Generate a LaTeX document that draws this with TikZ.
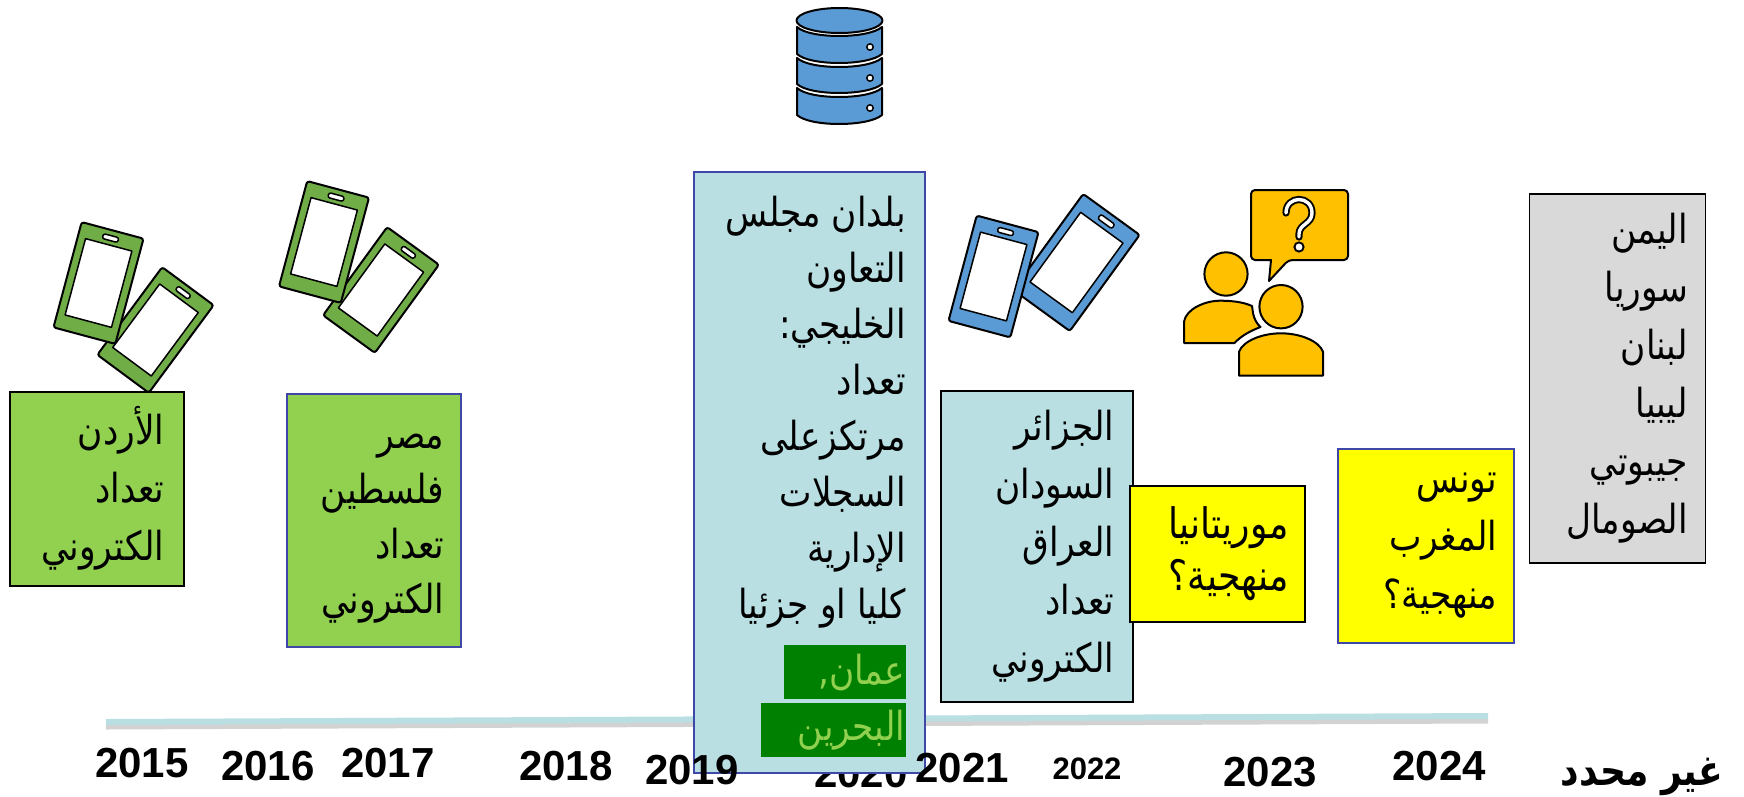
\documentclass[tikz,border=0pt]{standalone}
\usepackage{fontspec}
\setmainfont{Liberation Sans}
\TeXXeTstate=1
\newfontfamily\arabicfont[Script=Arabic,FakeStretch=0.86]{DejaVu Sans}
\definecolor{lgreen}{HTML}{92D050}
\definecolor{lblue}{HTML}{B9DFE3}
\definecolor{lgray}{HTML}{D9D9D9}
\definecolor{edgeblue}{HTML}{3F48A8}
\definecolor{dgreen}{HTML}{008000}
\definecolor{iconblue}{HTML}{5B9BD5}
\definecolor{icongreen}{HTML}{70AD47}
\definecolor{iconamber}{HTML}{FFC000}
\definecolor{pureyellow}{HTML}{FFFF00}
\tikzset{
  panel/.style={rectangle,draw=#1,line width=1.5pt,inner sep=0pt,anchor=north west},
  artext/.style={font=\fontsize{40}{58}\selectfont\arabicfont,align=right,inner sep=0pt,anchor=east,text=black},
  yearlabel/.style={font=\fontsize{42}{44}\selectfont\bfseries,inner sep=0pt},
  iconline/.style={draw=black,line width=2pt,line join=round},
  phoneshell/.style={iconline,rounded corners=2.5pt},
}
\newcommand{\phoneicon}[5]{%
  \begin{scope}[shift={(#1,#2)},rotate=-#3,scale=#4]
    \draw[phoneshell,fill=#5] (-32,-54.5) rectangle (32,54.5);
    \fill[white] (-24,-39.5) rectangle (24,39.5);
    \draw[iconline,line width=1.5pt] (-24,-39.5) rectangle (24,39.5);
    \draw[iconline,line width=1.5pt,fill=white,rounded corners=2.2pt] (-8,-49) rectangle (8,-44);
  \end{scope}}
\newcommand{\dblayer}[3]{%
  \draw[iconline,fill=iconblue] (797,#1) .. controls (810,#1+12) and (868,#1+12) .. (882,#1) -- (882,#2) .. controls (868,#2+12) and (810,#2+12) .. (797,#2) -- cycle;
  \draw[iconline,line width=1.5pt,fill=white] (870,#3) circle[radius=3.2];}
\begin{document}
\begin{tikzpicture}[x=1pt,y=-1pt]
\useasboundingbox (0,0) rectangle (1744,797);
% timeline
\coordinate (tlstart) at (106,722);
\coordinate (tlend) at (1488,716);
\draw[line width=5pt,black!25,opacity=.7] ([yshift=-5pt]tlstart) -- ([yshift=-5pt]tlend);
\draw[line width=6pt,lblue] (tlstart) -- (tlend);
% years behind the Gulf panel
\node[yearlabel] (y15) at (142,763) {2015};
\node[yearlabel] (y16) at (268,766) {2016};
\node[yearlabel] (y17) at (388,763) {2017};
\node[yearlabel] (y18) at (566,766) {2018};
\node[yearlabel] (y20) at (861,773) {2020};
\node[yearlabel,font=\fontsize{31}{34}\selectfont\bfseries] (y22) at (1087,769) {2022};
\node[yearlabel] (y23) at (1270,772) {2023};
\node[yearlabel] (y24) at (1439,766) {2024};
\node[yearlabel,font=\fontsize{42}{44}\selectfont\arabicfont\bfseries] (yna) at (1642,777) {\beginR غير محدد\endR};
% phones
\phoneicon{155.5}{330}{36.5}{1}{icongreen}
\phoneicon{98.5}{283}{15}{1}{icongreen}
\phoneicon{381}{290}{36}{1}{icongreen}
\phoneicon{324}{242}{15}{1}{icongreen}
\phoneicon{1076.5}{262.5}{36}{1.09}{iconblue}
\phoneicon{993.5}{276.5}{15}{1}{iconblue}
% database
\dblayer{27}{54}{47}
\dblayer{58}{84}{78}
\dblayer{88}{115}{108}
\draw[iconline,fill=iconblue] (839.5,20.5) ellipse[x radius=43,y radius=12.5];
% people and bubble
\draw[iconline,fill=iconamber,rounded corners=4pt] (1251,190) -- (1348,190) -- (1348,260) -- (1288.5,260) [sharp corners] -- (1269,281) -- (1271,260) [rounded corners=4pt] -- (1251,260) -- cycle;
\draw[line width=7.2pt,black,line cap=round] (1286,213) .. controls (1286,195) and (1312,195) .. (1312,213) .. controls (1312,224) and (1299,224) .. (1299,234) -- (1299,237);
\draw[line width=3.4pt,white,line cap=round] (1286,213) .. controls (1286,195) and (1312,195) .. (1312,213) .. controls (1312,224) and (1299,224) .. (1299,234) -- (1299,237);
\draw[line width=1.9pt,fill=white] (1299,247) circle[radius=4.6];
\draw[iconline,fill=iconamber] (1226,274) ellipse[x radius=21.6,y radius=21.7];
\draw[iconline,fill=iconamber] (1184,343) -- (1184,321.7) .. controls (1186,309) and (1205,300.7) .. (1220,300.7) .. controls (1232,300.7) and (1243,302) .. (1252,306) -- (1253,313) .. controls (1254,319) and (1257,324) .. (1260.5,327) .. controls (1250,331) and (1241,336) .. (1234.5,343) -- cycle;
\draw[iconline,fill=iconamber] (1281,306.7) ellipse[x radius=21.6,y radius=21.7];
\draw[iconline,fill=iconamber] (1239,375.7) -- (1239,351.7) .. controls (1243,341) and (1262,333.3) .. (1281,333.3) .. controls (1300,333.3) and (1319,341) .. (1323,351.7) -- (1323,375.7) -- cycle;
% boxes
\node[panel=black,fill=lgreen,minimum width=174pt,minimum height=194pt] (jordan) at (9,391) {};
\node[artext,xshift=-20pt] (jordantext) at (jordan.east) {\beginR الأردن\endR\\\beginR تعداد\endR\\\beginR الكتروني\endR};
\node[panel=edgeblue,fill=lgreen,minimum width=174pt,minimum height=253pt] (egypt) at (286,393) {};
\node[artext,xshift=-17pt,yshift=-8pt,font=\fontsize{40}{55}\selectfont\arabicfont] (egypttext) at (egypt.east) {\beginR مصر\endR\\\beginR فلسطين\endR\\\beginR تعداد\endR\\\beginR الكتروني\endR};
\node[panel=edgeblue,fill=lblue,minimum width=231pt,minimum height=601pt] (gulf) at (693,171) {};
\node[artext,anchor=north east,font=\fontsize{40}{56}\selectfont\arabicfont] (gulftext) at (906,196) {\beginR بلدان مجلس\endR\\\beginR التعاون\endR\\\beginR الخليجي:\endR\\\beginR تعداد\endR\\\beginR مرتكزعلى\endR\\\beginR السجلات\endR\\\beginR الإدارية\endR\\\beginR كليا او جزئيا\endR};
\node[rectangle,fill=dgreen,inner sep=0pt,anchor=north west,minimum width=122pt,minimum height=54pt] (oman) at (784,645) {};
\node[artext,text=lgreen,xshift=-1pt] (omantext) at (oman.east) {\beginR عمان,\endR};
\node[rectangle,fill=dgreen,inner sep=0pt,anchor=north west,minimum width=145pt,minimum height=54pt] (bahrain) at (761,703) {};
\node[artext,text=lgreen,xshift=-1pt] (bahraintext) at (bahrain.east) {\beginR البحرين\endR};
\node[panel=black,fill=lblue,minimum width=192pt,minimum height=311pt] (algeria) at (940,390) {};
\node[artext,xshift=-19pt] (algeriatext) at (algeria.east) {\beginR الجزائر\endR\\\beginR السودان\endR\\\beginR العراق\endR\\\beginR تعداد\endR\\\beginR الكتروني\endR};
\node[panel=black,fill=pureyellow,minimum width=175pt,minimum height=136pt] (mauritania) at (1129,485) {};
\node[artext,xshift=-17pt,font=\fontsize{42}{52}\selectfont\arabicfont] (mauritaniatext) at (mauritania.east) {\beginR موريتانيا\endR\\\beginR منهجية؟\endR};
\node[panel=edgeblue,fill=pureyellow,minimum width=176pt,minimum height=194pt] (tunisia) at (1337,448) {};
\node[artext,xshift=-17pt] (tunisiatext) at (tunisia.east) {\beginR تونس\endR\\\beginR المغرب\endR\\\beginR منهجية؟\endR};
\node[panel=black,fill=lgray,minimum width=176pt,minimum height=369pt] (undetermined) at (1528.5,193) {};
\node[artext,xshift=-18pt] (undeterminedtext) at (undetermined.east) {\beginR اليمن\endR\\\beginR سوريا\endR\\\beginR لبنان\endR\\\beginR ليبيا\endR\\\beginR جيبوتي\endR\\\beginR الصومال\endR};
% years in front of the Gulf panel
\node[yearlabel] (y19) at (692,770) {2019};
\node[yearlabel] (y21) at (962,768) {2021};
\end{tikzpicture}
\end{document}
